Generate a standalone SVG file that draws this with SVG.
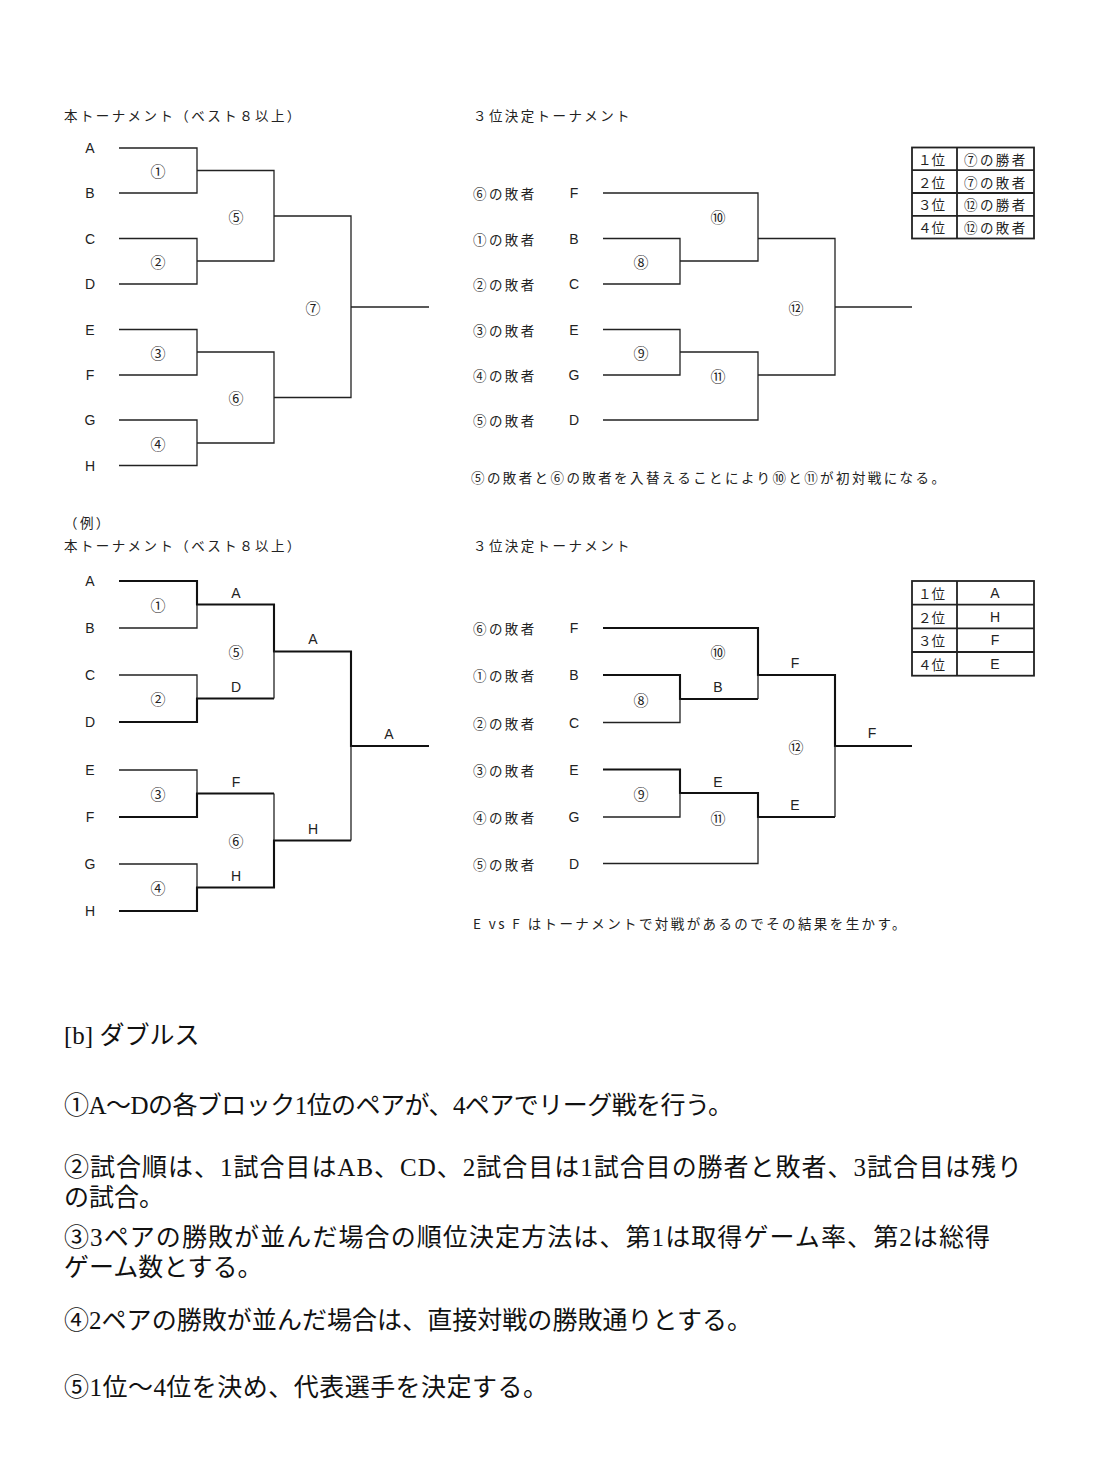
<svg xmlns="http://www.w3.org/2000/svg" width="1099" height="1481" viewBox="0 0 1099 1481">
<style>
.bg{fill:#fff}
.t{font-family:"Noto Sans CJK JP","Noto Sans CJK SC",sans-serif;font-size:13.5px;fill:#222;letter-spacing:2.4px;dominant-baseline:central}
.tn{font-family:"Noto Sans CJK JP",sans-serif;font-size:13.5px;fill:#222;dominant-baseline:central}
.l{font-family:"Liberation Sans","Noto Sans CJK JP",sans-serif;font-size:14px;fill:#222;text-anchor:middle;dominant-baseline:central}
.c{font-family:"Noto Sans CJK JP",sans-serif;font-size:15px;fill:#222;text-anchor:middle;dominant-baseline:central}
.b{font-family:"Liberation Serif","Noto Sans CJK JP",serif;font-size:25px;fill:#111;dominant-baseline:central}
.thin{fill:none;stroke:#222;stroke-width:1.3}
.thick{fill:none;stroke:#111;stroke-width:2.1}
.tbl{fill:none;stroke:#222;stroke-width:1.8}
</style>
<rect class="bg" x="0" y="0" width="1099" height="1481"/>

<g id="connectors">
  <g id="top-main-lines">
    <path class="thin" d="M119 148 H197 V193 H119"/>
    <path class="thin" d="M119 238.5 H197 V284 H119"/>
    <path class="thin" d="M197 170.5 H274 V261 H197"/>
    <path class="thin" d="M119 329.5 H197 V375 H119"/>
    <path class="thin" d="M119 420 H197 V465.5 H119"/>
    <path class="thin" d="M197 352 H274 V443 H197"/>
    <path class="thin" d="M274 216 H351 V397.5 H274"/>
    <path class="thin" d="M351 307 H429"/>
  </g>
  <g id="top-third-lines">
    <path class="thin" d="M603 193 H758 V261 H680"/>
    <path class="thin" d="M603 238.5 H680 V284 H603"/>
    <path class="thin" d="M758 238.5 H835 V375 H758"/>
    <path class="thin" d="M603 329.5 H680 V375 H603"/>
    <path class="thin" d="M680 352 H758 V420 H603"/>
    <path class="thin" d="M835 307 H912"/>
  </g>
  <g id="ex-main-lines">
    <path class="thin" d="M119 628 H197 V604.5"/>
    <path class="thick" d="M119 581 H197 V604.5 H274 V651.5 H351 V746 H429"/>
    <path class="thin" d="M119 675 H197 V698.5"/>
    <path class="thick" d="M119 722 H197 V698.5 H274"/>
    <path class="thin" d="M274 698.5 V651.5"/>
    <path class="thin" d="M119 770 H197 V793.5"/>
    <path class="thick" d="M119 817 H197 V793.5 H274"/>
    <path class="thin" d="M274 793.5 V840.5"/>
    <path class="thin" d="M119 864 H197 V887.5"/>
    <path class="thick" d="M119 911 H197 V887.5 H274 V840.5 H351"/>
    <path class="thin" d="M351 840.5 V746"/>
  </g>
  <g id="ex-third-lines">
    <path class="thick" d="M603 628 H758 V675 H835 V746 H912"/>
    <path class="thick" d="M603 675 H680 V699 H758"/>
    <path class="thin" d="M758 699 V675"/>
    <path class="thin" d="M603 722.5 H680 V699"/>
    <path class="thick" d="M603 769.5 H680 V793 H758 V817 H835"/>
    <path class="thin" d="M603 817 H680 V793"/>
    <path class="thin" d="M603 863.5 H758 V817"/>
    <path class="thin" d="M835 817 V746"/>
  </g>
</g>

<g id="top-main">
  <text class="t" x="64" y="115">本トーナメント（ベスト８以上）</text>
  <g id="tm-A"><text class="l" x="90" y="148">A</text></g>
  <g id="tm-B"><text class="l" x="90" y="193">B</text></g>
  <g id="tm-C"><text class="l" x="90" y="238.5">C</text></g>
  <g id="tm-D"><text class="l" x="90" y="284">D</text></g>
  <g id="tm-E"><text class="l" x="90" y="329.5">E</text></g>
  <g id="tm-F"><text class="l" x="90" y="375">F</text></g>
  <g id="tm-G"><text class="l" x="90" y="420">G</text></g>
  <g id="tm-H"><text class="l" x="90" y="465.5">H</text></g>
  <g id="tm-m1"><text class="c" x="158" y="170.5">①</text></g>
  <g id="tm-m2"><text class="c" x="158" y="261">②</text></g>
  <g id="tm-m3"><text class="c" x="158" y="352">③</text></g>
  <g id="tm-m4"><text class="c" x="158" y="443">④</text></g>
  <g id="tm-m5"><text class="c" x="236" y="216">⑤</text></g>
  <g id="tm-m6"><text class="c" x="236" y="397.5">⑥</text></g>
  <g id="tm-m7"><text class="c" x="313" y="307">⑦</text></g>
</g>

<g id="top-third">
  <text class="t" x="473" y="115">３位決定トーナメント</text>
  <g id="tt-F"><text class="t" x="473" y="193">⑥の敗者</text><text class="l" x="574" y="193">F</text></g>
  <g id="tt-B"><text class="t" x="473" y="238.5">①の敗者</text><text class="l" x="574" y="238.5">B</text></g>
  <g id="tt-C"><text class="t" x="473" y="284">②の敗者</text><text class="l" x="574" y="284">C</text></g>
  <g id="tt-E"><text class="t" x="473" y="329.5">③の敗者</text><text class="l" x="574" y="329.5">E</text></g>
  <g id="tt-G"><text class="t" x="473" y="375">④の敗者</text><text class="l" x="574" y="375">G</text></g>
  <g id="tt-D"><text class="t" x="473" y="420">⑤の敗者</text><text class="l" x="574" y="420">D</text></g>
  <g id="tt-m8"><text class="c" x="641" y="261">⑧</text></g>
  <g id="tt-m9"><text class="c" x="641" y="352">⑨</text></g>
  <g id="tt-m10"><text class="c" x="718" y="216">⑩</text></g>
  <g id="tt-m11"><text class="c" x="718" y="375">⑪</text></g>
  <g id="tt-m12"><text class="c" x="796" y="307">⑫</text></g>
  <text class="t" x="471" y="477">⑤の敗者と⑥の敗者を入替えることにより⑩と⑪が初対戦になる。</text>
</g>

<g id="top-table">
  <rect class="tbl" x="912" y="147.5" width="122" height="91"/>
  <path class="tbl" d="M957 147.5 V238.5 M912 170.2 H1034 M912 193 H1034 M912 215.8 H1034"/>
  <text class="tn" x="918" y="159">１位</text><text class="t" x="964" y="159">⑦の勝者</text>
  <text class="tn" x="918" y="181.6">２位</text><text class="t" x="964" y="181.6">⑦の敗者</text>
  <text class="tn" x="918" y="204.4">３位</text><text class="t" x="964" y="204.4">⑫の勝者</text>
  <text class="tn" x="918" y="227.2">４位</text><text class="t" x="964" y="227.2">⑫の敗者</text>
</g>

<g id="ex-main">
  <text class="t" x="64" y="522">（例）</text>
  <text class="t" x="64" y="545">本トーナメント（ベスト８以上）</text>
  <g id="em-A"><text class="l" x="90" y="581">A</text></g>
  <g id="em-B"><text class="l" x="90" y="628">B</text></g>
  <g id="em-C"><text class="l" x="90" y="675">C</text></g>
  <g id="em-D"><text class="l" x="90" y="722">D</text></g>
  <g id="em-E"><text class="l" x="90" y="770">E</text></g>
  <g id="em-F"><text class="l" x="90" y="817">F</text></g>
  <g id="em-G"><text class="l" x="90" y="864">G</text></g>
  <g id="em-H"><text class="l" x="90" y="911">H</text></g>
  <g id="em-m1"><text class="c" x="158" y="604.5">①</text><text class="l" x="236" y="592.5">A</text></g>
  <g id="em-m2"><text class="c" x="158" y="698.5">②</text><text class="l" x="236" y="686.5">D</text></g>
  <g id="em-m3"><text class="c" x="158" y="793.5">③</text><text class="l" x="236" y="781.5">F</text></g>
  <g id="em-m4"><text class="c" x="158" y="887.5">④</text><text class="l" x="236" y="875.5">H</text></g>
  <g id="em-m5"><text class="c" x="236" y="651.5">⑤</text><text class="l" x="313" y="639">A</text></g>
  <g id="em-m6"><text class="c" x="236" y="840.5">⑥</text><text class="l" x="313" y="829">H</text></g>
  <g id="em-m7"><text class="l" x="389" y="734">A</text></g>
</g>

<g id="ex-third">
  <text class="t" x="473" y="545">３位決定トーナメント</text>
  <g id="et-F"><text class="t" x="473" y="628">⑥の敗者</text><text class="l" x="574" y="628">F</text></g>
  <g id="et-B"><text class="t" x="473" y="675">①の敗者</text><text class="l" x="574" y="675">B</text></g>
  <g id="et-C"><text class="t" x="473" y="722.5">②の敗者</text><text class="l" x="574" y="722.5">C</text></g>
  <g id="et-E"><text class="t" x="473" y="769.5">③の敗者</text><text class="l" x="574" y="769.5">E</text></g>
  <g id="et-G"><text class="t" x="473" y="817">④の敗者</text><text class="l" x="574" y="817">G</text></g>
  <g id="et-D"><text class="t" x="473" y="863.5">⑤の敗者</text><text class="l" x="574" y="863.5">D</text></g>
  <g id="et-m8"><text class="c" x="641" y="699">⑧</text><text class="l" x="718" y="687">B</text></g>
  <g id="et-m9"><text class="c" x="641" y="793">⑨</text><text class="l" x="718" y="781.5">E</text></g>
  <g id="et-m10"><text class="c" x="718" y="651.5">⑩</text><text class="l" x="795" y="663">F</text></g>
  <g id="et-m11"><text class="c" x="718" y="817">⑪</text><text class="l" x="795" y="805">E</text></g>
  <g id="et-m12"><text class="c" x="796" y="746">⑫</text><text class="l" x="872" y="733">F</text></g>
  <text class="t" x="473" y="923">E vs F はトーナメントで対戦があるのでその結果を生かす。</text>
</g>

<g id="ex-table">
  <rect class="tbl" x="912" y="581" width="122" height="94.7"/>
  <path class="tbl" d="M957 581 V675.7 M912 604.7 H1034 M912 628.3 H1034 M912 652 H1034"/>
  <text class="tn" x="918" y="592.8">１位</text><text class="l" x="995" y="592.8">A</text>
  <text class="tn" x="918" y="616.5">２位</text><text class="l" x="995" y="616.5">H</text>
  <text class="tn" x="918" y="640.2">３位</text><text class="l" x="995" y="640.2">F</text>
  <text class="tn" x="918" y="663.8">４位</text><text class="l" x="995" y="663.8">E</text>
</g>

<g id="rules">
  <text class="b" x="64" y="1035">[b]  ダブルス</text>
  <text class="b" x="64" y="1105" textLength="669" lengthAdjust="spacing">①A～Dの各ブロック1位のペアが、4ペアでリーグ戦を行う。</text>
  <text class="b" x="64" y="1167" textLength="958" lengthAdjust="spacing">②試合順は、1試合目はAB、CD、2試合目は1試合目の勝者と敗者、3試合目は残り</text>
  <text class="b" x="64" y="1197">の試合。</text>
  <text class="b" x="64" y="1237" textLength="926" lengthAdjust="spacing">③3ペアの勝敗が並んだ場合の順位決定方法は、第1は取得ゲーム率、第2は総得</text>
  <text class="b" x="64" y="1267">ゲーム数とする。</text>
  <text class="b" x="64" y="1320" textLength="688" lengthAdjust="spacing">④2ペアの勝敗が並んだ場合は、直接対戦の勝敗通りとする。</text>
  <text class="b" x="64" y="1387" textLength="484" lengthAdjust="spacing">⑤1位～4位を決め、代表選手を決定する。</text>
</g>
</svg>
